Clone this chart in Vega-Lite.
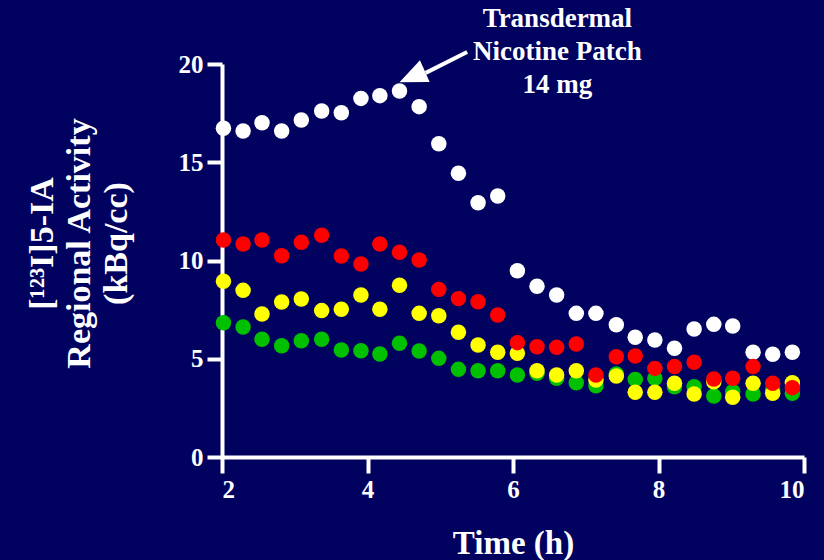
{
  "$schema": "https://vega.github.io/schema/vega-lite/v6.json",
  "autosize": "none",
  "width": 582,
  "height": 393,
  "padding": {"left": 222, "top": 64, "right": 20, "bottom": 103},
  "background": "#01015f",
  "config": {
    "view": {"stroke": null},
    "axis": {
      "domainColor": "#ffffff",
      "domainWidth": 4,
      "tickColor": "#ffffff",
      "tickWidth": 4,
      "grid": false,
      "labelColor": "#ffffff",
      "labelFont": "Liberation Serif",
      "labelFontWeight": "bold",
      "labelFontSize": 25,
      "titleColor": "#ffffff",
      "titleFont": "Liberation Serif",
      "titleFontWeight": "bold",
      "titleFontSize": 33
    }
  },
  "datasets": {
    "pts": [
      {"t": 2.02, "s": "white", "v": 16.73}, {"t": 2.29, "s": "white", "v": 16.59}, {"t": 2.55, "s": "white", "v": 17.01}, {"t": 2.82, "s": "white", "v": 16.59}, {"t": 3.09, "s": "white", "v": 17.15}, {"t": 3.37, "s": "white", "v": 17.61}, {"t": 3.64, "s": "white", "v": 17.52}, {"t": 3.91, "s": "white", "v": 18.25}, {"t": 4.17, "s": "white", "v": 18.39}, {"t": 4.44, "s": "white", "v": 18.63},
      {"t": 4.71, "s": "white", "v": 17.83}, {"t": 4.98, "s": "white", "v": 15.94}, {"t": 5.25, "s": "white", "v": 14.44}, {"t": 5.52, "s": "white", "v": 12.94}, {"t": 5.79, "s": "white", "v": 13.28}, {"t": 6.06, "s": "white", "v": 9.48}, {"t": 6.33, "s": "white", "v": 8.69}, {"t": 6.60, "s": "white", "v": 8.24}, {"t": 6.87, "s": "white", "v": 7.31}, {"t": 7.14, "s": "white", "v": 7.31},
      {"t": 7.42, "s": "white", "v": 6.73}, {"t": 7.68, "s": "white", "v": 6.09}, {"t": 7.95, "s": "white", "v": 5.95}, {"t": 8.22, "s": "white", "v": 5.53}, {"t": 8.49, "s": "white", "v": 6.51}, {"t": 8.76, "s": "white", "v": 6.75}, {"t": 9.02, "s": "white", "v": 6.67}, {"t": 9.30, "s": "white", "v": 5.33}, {"t": 9.57, "s": "white", "v": 5.23}, {"t": 9.84, "s": "white", "v": 5.33},
      {"t": 2.02, "s": "green", "v": 6.83}, {"t": 2.29, "s": "green", "v": 6.62}, {"t": 2.55, "s": "green", "v": 5.99}, {"t": 2.82, "s": "green", "v": 5.66}, {"t": 3.09, "s": "green", "v": 5.92}, {"t": 3.37, "s": "green", "v": 5.99}, {"t": 3.64, "s": "green", "v": 5.45}, {"t": 3.91, "s": "green", "v": 5.41}, {"t": 4.17, "s": "green", "v": 5.24}, {"t": 4.44, "s": "green", "v": 5.79},
      {"t": 4.71, "s": "green", "v": 5.39}, {"t": 4.98, "s": "green", "v": 5.02}, {"t": 5.25, "s": "green", "v": 4.46}, {"t": 5.52, "s": "green", "v": 4.39}, {"t": 5.79, "s": "green", "v": 4.39}, {"t": 6.06, "s": "green", "v": 4.17}, {"t": 6.33, "s": "green", "v": 4.26}, {"t": 6.60, "s": "green", "v": 4.01}, {"t": 6.87, "s": "green", "v": 3.78}, {"t": 7.14, "s": "green", "v": 3.63},
      {"t": 7.42, "s": "green", "v": 4.22}, {"t": 7.68, "s": "green", "v": 3.95}, {"t": 7.95, "s": "green", "v": 4.01}, {"t": 8.22, "s": "green", "v": 3.58}, {"t": 8.49, "s": "green", "v": 3.58}, {"t": 8.76, "s": "green", "v": 3.10}, {"t": 9.02, "s": "green", "v": 3.32}, {"t": 9.30, "s": "green", "v": 3.21}, {"t": 9.57, "s": "green", "v": 3.41}, {"t": 9.84, "s": "green", "v": 3.24},
      {"t": 2.02, "s": "yellow", "v": 8.94}, {"t": 2.29, "s": "yellow", "v": 8.48}, {"t": 2.55, "s": "yellow", "v": 7.28}, {"t": 2.82, "s": "yellow", "v": 7.89}, {"t": 3.09, "s": "yellow", "v": 8.04}, {"t": 3.37, "s": "yellow", "v": 7.45}, {"t": 3.64, "s": "yellow", "v": 7.52}, {"t": 3.91, "s": "yellow", "v": 8.24}, {"t": 4.17, "s": "yellow", "v": 7.52}, {"t": 4.44, "s": "yellow", "v": 8.74},
      {"t": 4.71, "s": "yellow", "v": 7.31}, {"t": 4.98, "s": "yellow", "v": 7.19}, {"t": 5.25, "s": "yellow", "v": 6.35}, {"t": 5.52, "s": "yellow", "v": 5.70}, {"t": 5.79, "s": "yellow", "v": 5.33}, {"t": 6.06, "s": "yellow", "v": 5.28}, {"t": 6.33, "s": "yellow", "v": 4.39}, {"t": 6.60, "s": "yellow", "v": 4.17}, {"t": 6.87, "s": "yellow", "v": 4.39}, {"t": 7.14, "s": "yellow", "v": 3.92},
      {"t": 7.42, "s": "yellow", "v": 4.12}, {"t": 7.68, "s": "yellow", "v": 3.29}, {"t": 7.95, "s": "yellow", "v": 3.29}, {"t": 8.22, "s": "yellow", "v": 3.75}, {"t": 8.49, "s": "yellow", "v": 3.21}, {"t": 8.76, "s": "yellow", "v": 3.83}, {"t": 9.02, "s": "yellow", "v": 3.04}, {"t": 9.30, "s": "yellow", "v": 3.75}, {"t": 9.57, "s": "yellow", "v": 3.24}, {"t": 9.84, "s": "yellow", "v": 3.78},
      {"t": 2.02, "s": "red", "v": 11.04}, {"t": 2.29, "s": "red", "v": 10.84}, {"t": 2.55, "s": "red", "v": 11.04}, {"t": 2.82, "s": "red", "v": 10.24}, {"t": 3.09, "s": "red", "v": 10.93}, {"t": 3.37, "s": "red", "v": 11.28}, {"t": 3.64, "s": "red", "v": 10.23}, {"t": 3.91, "s": "red", "v": 9.82}, {"t": 4.17, "s": "red", "v": 10.84}, {"t": 4.44, "s": "red", "v": 10.42},
      {"t": 4.71, "s": "red", "v": 10.03}, {"t": 4.98, "s": "red", "v": 8.53}, {"t": 5.25, "s": "red", "v": 8.06}, {"t": 5.52, "s": "red", "v": 7.90}, {"t": 5.79, "s": "red", "v": 7.23}, {"t": 6.06, "s": "red", "v": 5.82}, {"t": 6.33, "s": "red", "v": 5.61}, {"t": 6.60, "s": "red", "v": 5.58}, {"t": 6.87, "s": "red", "v": 5.75}, {"t": 7.14, "s": "red", "v": 4.17},
      {"t": 7.42, "s": "red", "v": 5.10}, {"t": 7.68, "s": "red", "v": 5.14}, {"t": 7.95, "s": "red", "v": 4.51}, {"t": 8.22, "s": "red", "v": 4.60}, {"t": 8.49, "s": "red", "v": 4.82}, {"t": 8.76, "s": "red", "v": 3.97}, {"t": 9.02, "s": "red", "v": 4.01}, {"t": 9.30, "s": "red", "v": 4.60}, {"t": 9.57, "s": "red", "v": 3.75}, {"t": 9.84, "s": "red", "v": 3.53}
    ],
    "note": [{"t": 6.61, "v": 21.88, "label": "Transdermal\nNicotine Patch\n14 mg"}],
    "shaft": [{"t": 5.37, "v": 20.61, "t2": 4.8, "v2": 19.55}],
    "head": [{"t": 4.44, "v": 19.07}]
  },
  "encoding": {
    "x": {
      "field": "t", "type": "quantitative",
      "scale": {"domain": [2, 10], "nice": false, "zero": false},
      "axis": {"values": [2, 4, 6, 8, 10], "title": "Time (h)", "tickSize": 16, "labelPadding": 4, "titleY": 96, "titleBaseline": "alphabetic"}
    },
    "y": {
      "field": "v", "type": "quantitative",
      "scale": {"domain": [0, 20], "nice": false},
      "axis": {
        "values": [0, 5, 10, 15, 20],
        "tickSize": 15,
        "labelPadding": 4,
        "title": ["[¹²³I]5-IA", "Regional Activity", "(kBq/cc)"],
        "titleFontSize": 34,
        "titleAngle": 270,
        "titleAlign": "center",
        "titleBaseline": "middle",
        "titleLineHeight": 37,
        "titleX": -180,
        "titleY": 179
      }
    }
  },
  "layer": [
    {
      "data": {"name": "pts"},
      "mark": {"type": "circle", "size": 240, "opacity": 1},
      "encoding": {
        "color": {
          "field": "s", "type": "nominal",
          "scale": {"domain": ["white", "green", "yellow", "red"], "range": ["#ffffff", "#00c000", "#ffff00", "#ff0000"]},
          "legend": null
        }
      }
    },
    {
      "data": {"name": "note"},
      "mark": {"type": "text", "color": "#ffffff", "font": "Liberation Serif", "fontWeight": "bold", "fontSize": 27, "lineBreak": "\n", "lineHeight": 33, "align": "center", "baseline": "alphabetic"},
      "encoding": {
        "text": {"field": "label"}
      }
    },
    {
      "data": {"name": "shaft"},
      "mark": {"type": "rule", "color": "#ffffff", "strokeWidth": 4},
      "encoding": {
        "x2": {"field": "t2"},
        "y2": {"field": "v2"}
      }
    },
    {
      "data": {"name": "head"},
      "mark": {"type": "point", "shape": "M0,0 L1,-0.43 L1,0.43 Z", "filled": true, "color": "#ffffff", "opacity": 1, "size": 3069, "angle": 336, "strokeWidth": 0}
    }
  ]
}
